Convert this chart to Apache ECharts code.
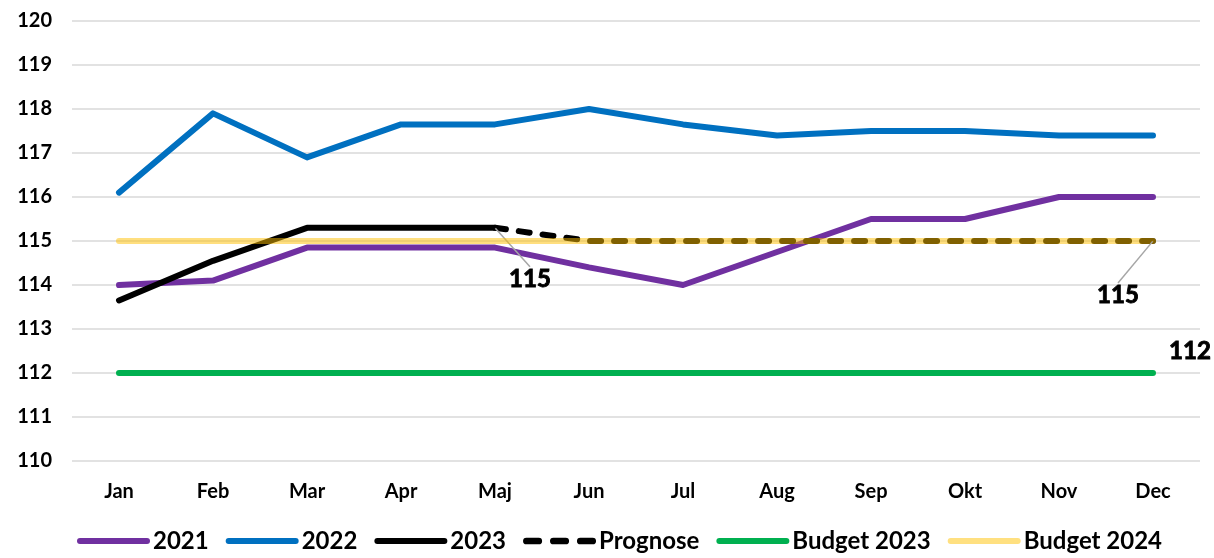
<!DOCTYPE html>
<html>
<head>
<meta charset="utf-8">
<script src="https://cdn.jsdelivr.net/npm/echarts@6/dist/echarts.min.js"></script>
<style>html,body{margin:0;padding:0;background:#fff}#c{width:1214px;height:558px}</style>
</head>
<body>
<div id="c"></div>
<script>
const months = ['Jan','Feb','Mar','Apr','Maj','Jun','Jul','Aug','Sep','Okt','Nov','Dec'];
const y2021 = [114.0,114.1,114.85,114.85,114.85,114.4,114.0,114.75,115.5,115.5,116.0,116.0];
const y2022 = [116.1,117.9,116.9,117.65,117.65,118.0,117.65,117.4,117.5,117.5,117.4,117.4];
const y2023 = [113.65,114.55,115.3,115.3,115.3,null,null,null,null,null,null,null];
const prognose = [null,null,null,null,115.3,115,115,115,115,115,115,115];
const budget2023 = [112,112,112,112,112,112,112,112,112,112,112,112];
const budget2024 = [115,115,115,115,115,115,115,115,115,115,115,115];
const yTicks = {min:110, max:120, interval:1};

const FONT = 'Lato';
function labelStyle(pad) {
  return {show: false, position: 'top', fontFamily: FONT, fontWeight: 'bold', fontSize: 24, color: '#000',
          textBorderColor: '#000', textBorderWidth: 0.9,
          opacity: 1, padding: pad, formatter: p => String(Math.round(p.value))};
}
function withLabel(arr, idx, pad) {
  return arr.map((v, i) => i === idx
    ? {value: v, symbol: 'circle', symbolSize: 1, label: Object.assign(labelStyle(pad), {show: true})}
    : v);
}

const chart = echarts.init(document.getElementById('c'), null, {renderer: 'canvas'});
const guide = {show: true, lineStyle: {color: '#A6A6A6', width: 1.5, opacity: 1}};
const solidIcon = 'path://M3,0 L70,0 A3,3 0 0 1 70,6 L3,6 A3,3 0 0 1 3,0 Z';
const dashIcon = 'path://M3,0 L14,0 A3,3 0 0 1 14,6 L3,6 A3,3 0 0 1 3,0 Z M27,0 L38,0 A3,3 0 0 1 38,6 L27,6 A3,3 0 0 1 27,0 Z M51,0 L62,0 A3,3 0 0 1 62,6 L51,6 A3,3 0 0 1 51,0 Z';
chart.setOption({
  animation: false,
  grid: {left: 72, right: 14, top: 21, bottom: 97, containLabel: false},
  legend: {
    left: 72, bottom: 0,
    itemWidth: 73, itemHeight: 7, itemGap: 17,
    textStyle: {fontFamily: FONT, fontWeight: 'bold', fontSize: 24, color: '#000', padding: [0,0,0,-2]},
    data: [
      {name: '2021', icon: solidIcon},
      {name: '2022', icon: solidIcon},
      {name: '2023', icon: solidIcon},
      {name: 'Prognose', icon: dashIcon},
      {name: 'Budget 2023', icon: solidIcon},
      {name: 'Budget 2024', icon: solidIcon, itemStyle: {color: '#FFE080', opacity: 1}}
    ]
  },
  xAxis: {
    type: 'category', data: months, boundaryGap: true,
    axisLine: {show: false}, axisTick: {show: false},
    axisLabel: {fontFamily: FONT, fontWeight: 'bold', fontSize: 20, color: '#000', margin: 21}
  },
  yAxis: {
    type: 'value', min: yTicks.min, max: yTicks.max, interval: yTicks.interval,
    axisLine: {show: false}, axisTick: {show: false},
    axisLabel: {fontFamily: FONT, fontWeight: 'bold', fontSize: 20, color: '#000', margin: 20},
    splitLine: {lineStyle: {color: '#D9D9D9', width: 1.5}}
  },
  series: [
    {name: '2021', type: 'line', data: y2021, symbol: 'none', lineStyle: {color: '#7030A0', width: 6, cap: 'round', join: 'round'}, itemStyle: {color: '#7030A0'}},
    {name: '2022', type: 'line', data: y2022, symbol: 'none', lineStyle: {color: '#0070C0', width: 6, cap: 'round', join: 'round'}, itemStyle: {color: '#0070C0'}},
    {name: '2023', type: 'line', data: withLabel(y2023, 4, [10,0,0,0]), symbol: 'none',
      lineStyle: {color: '#000', width: 6, cap: 'round', join: 'round'}, itemStyle: {color: '#000'},
      label: labelStyle([10,0,0,0]),
      labelLayout: p => p.dataIndex === 4 ? {dx: 35, dy: 69} : {}, labelLine: guide},
    {name: 'Prognose', type: 'line', data: prognose, symbol: 'none', lineStyle: {color: '#000', width: 6, type: [11, 13], cap: 'round'}, itemStyle: {color: '#000'}},
    {name: 'Budget 2023', type: 'line', data: withLabel(budget2023, 11, 0), symbol: 'none',
      lineStyle: {color: '#00B050', width: 6, cap: 'round'}, itemStyle: {color: '#00B050'},
      label: labelStyle(0),
      labelLayout: p => p.dataIndex === 11 ? {dx: 37, dy: -4} : {}},
    {name: 'Budget 2024', type: 'line', data: withLabel(budget2024, 11, [10,0,0,0]), symbol: 'none',
      lineStyle: {color: '#FFC000', width: 6, cap: 'round', opacity: 0.5}, itemStyle: {color: '#FFC000', opacity: 0.5},
      label: labelStyle([10,0,0,0]),
      labelLayout: p => p.dataIndex === 11 ? {dx: -35, dy: 72} : {}, labelLine: guide, z: 5}
  ]
});
</script>
</body>
</html>
